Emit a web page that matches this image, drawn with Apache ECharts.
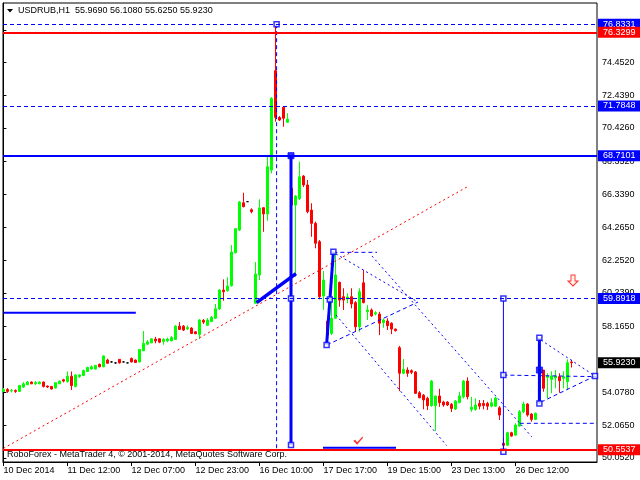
<!DOCTYPE html>
<html><head><meta charset="utf-8">
<script src="https://cdn.jsdelivr.net/npm/echarts@6/dist/echarts.min.js"></script>
<style>html,body{margin:0;padding:0;background:#fff}#c{width:640px;height:480px}</style>
</head><body><div id="c"></div>
<script>
// ---- candle data (USDRUB H1), bar index = position in arrays ----
const opens = [54.15,54.27,54.18,54.21,54.15,54.42,54.56,54.73,54.62,54.62,54.73,54.48,54.46,54.36,54.62,54.87,54.76,55.09,54.46,55.07,
55.13,55.38,55.53,55.53,55.82,55.67,56.09,55.97,55.91,56.13,55.97,55.91,56.19,56.09,55.97,56.66,57.07,57.15,57.38,57.40,
57.24,57.27,57.27,57.36,58.18,58.18,58.01,58.06,57.83,57.67,58.53,58.23,58.46,58.67,59.25,60.41,60.37,60.68,62.72,64.12,
65.80,65.87,65.37,59.59,61.34,65.50,65.11,67.82,73.96,71.07,71.70,70.77,66.69,65.66,66.06,67.45,66.90,65.35,64.53,63.40,
60.04,58.50,57.73,58.67,60.89,60.00,59.86,60.00,59.63,58.14,60.86,59.07,59.18,58.93,58.93,58.40,58.50,58.36,58.00,56.85,
55.27,55.47,55.43,55.35,54.07,53.92,53.72,53.27,53.27,53.87,53.49,53.49,53.35,53.06,53.47,53.82,54.79,53.04,53.04,53.41,
53.41,53.41,53.24,53.24,53.14,50.95,50.83,51.60,51.45,52.01,52.90,53.37,52.75,52.42,53.42,55.47,55.02,54.89,54.98,55.06,
54.96,54.75,55.969];
const highs = [54.36,54.36,54.30,54.27,54.55,54.73,54.79,54.76,54.79,54.76,54.76,54.51,54.48,54.73,54.82,54.93,55.38,55.38,55.20,55.20,
55.50,55.67,55.76,55.78,55.87,56.37,56.17,56.00,55.94,56.15,55.99,55.93,56.24,56.12,56.77,57.88,57.32,57.44,57.52,57.44,
57.44,57.47,57.57,58.25,58.43,58.25,58.23,58.12,57.88,58.62,58.62,58.68,58.81,59.55,60.47,61.07,61.20,63.19,64.24,65.91,
66.42,65.89,65.46,62.14,66.01,65.50,68.64,72.33,76.83,71.16,71.78,71.33,66.90,66.28,68.34,67.51,67.21,65.77,64.63,63.50,
61.59,58.76,60.00,62.76,60.93,60.52,60.21,60.52,59.73,60.52,61.65,59.48,59.28,59.11,59.07,58.67,58.67,58.42,58.03,56.96,
56.15,55.64,55.51,55.41,54.17,53.99,53.82,54.85,53.87,54.31,53.57,53.55,53.43,53.62,54.13,54.85,55.02,53.82,53.72,53.62,
53.62,53.51,53.72,53.82,53.24,51.27,51.66,51.66,52.18,53.00,53.52,53.42,52.80,52.84,57.46,55.47,55.27,55.39,55.47,55.27,
55.39,56.13,56.108];
const lows = [54.12,54.06,54.09,54.06,54.12,54.36,54.55,54.60,54.55,54.60,54.39,54.36,54.27,54.33,54.60,54.71,54.69,54.24,54.40,54.98,
55.11,55.36,55.50,55.50,55.64,55.64,55.87,55.94,55.87,55.87,55.95,55.89,55.94,55.91,55.94,56.64,57.01,57.13,57.12,57.13,
57.03,57.19,57.25,57.32,57.94,57.88,57.94,57.69,57.69,57.38,58.31,58.19,58.44,58.62,59.18,59.75,60.31,60.62,62.67,64.05,
65.52,65.85,65.15,59.59,61.03,64.01,64.69,67.62,70.81,70.85,70.50,70.76,65.17,61.23,65.97,66.77,65.15,63.70,62.99,59.84,
59.18,57.01,57.63,58.62,59.38,59.18,59.59,59.28,57.83,57.83,59.59,58.56,58.76,58.84,57.63,58.08,57.94,57.69,57.85,54.17,
55.22,55.05,55.22,53.99,53.72,53.04,53.00,53.20,51.72,53.20,53.20,53.24,52.88,53.00,53.41,53.72,53.66,52.89,52.96,53.04,
53.04,53.00,53.17,53.20,52.38,50.55,50.78,51.35,51.41,51.97,52.80,52.59,52.28,52.38,53.37,54.13,53.72,54.04,54.34,54.07,
54.34,54.24,55.625];
const closes = [54.27,54.15,54.21,54.15,54.52,54.62,54.73,54.62,54.70,54.73,54.46,54.42,54.30,54.69,54.79,54.79,55.09,54.51,55.17,55.17,
55.44,55.63,55.67,55.76,55.67,56.34,55.89,55.97,55.91,55.91,55.97,55.91,55.97,55.93,56.74,57.12,57.21,57.40,57.27,57.19,
57.36,57.38,57.48,58.18,57.98,57.94,58.10,57.73,57.71,58.56,58.43,58.56,58.73,59.25,60.41,60.31,60.66,62.76,64.20,65.85,
65.56,65.87,65.25,61.40,65.48,65.11,68.03,72.25,71.08,70.91,71.02,70.97,65.66,66.22,67.41,66.90,65.25,64.53,63.30,60.00,
61.03,57.63,58.67,61.34,59.79,59.79,59.98,59.55,58.14,60.31,59.63,59.18,58.81,59.01,58.36,58.56,58.21,58.00,57.90,55.27,
55.51,55.27,55.33,54.03,53.76,53.62,53.27,54.79,53.87,53.45,53.31,53.31,53.10,53.56,53.87,54.79,53.82,53.17,53.31,53.24,
53.28,53.24,53.45,53.74,52.69,50.82,51.60,51.39,52.07,52.90,53.37,52.69,52.42,52.80,55.51,54.34,55.10,55.10,55.10,54.81,
55.06,55.92,55.923];

// ---- axis ticks (labels hidden under price boxes are left out of the label list) ----
const priceTicks = [50.052,52.065,54.078,56.152,58.165,60.239,62.252,64.265,66.339,68.352,70.426,72.439,74.452,76.465];
const priceTickLabels = [50.052,52.065,54.078,58.165,60.239,62.252,64.265,66.339,68.352,70.426,72.439,74.452];
const dateTickBars = [0,16,32,48,64,80,96,112,128];
const dateLabels = ['10 Dec 2014','11 Dec 12:00','12 Dec 07:00','12 Dec 23:00','16 Dec 10:00','17 Dec 17:00','19 Dec 15:00','23 Dec 13:00','26 Dec 12:00'];

// ---- horizontal price levels ----
const levelHigh = 76.8331, levelResRed = 76.3299, levelDash1 = 71.7848, levelBlue = 68.7101, levelDash2 = 59.8918, levelSupRed = 50.5537;
const lastPrice = 55.923;
const header = ['USDRUB,H1', '55.9690', '56.1080', '55.6250', '55.9230'];

// ---- drawn objects: [bar, price] ----
const redTrend = [[0, 50.63], [115.98, 66.79]];
const blueTrend = [[63.3, 59.63], [73.15, 61.42]];
const spikeDashV = [[68.3, 76.83], [68.3, 50.55]];
const waveV1 = [[71.9, 68.71], [71.9, 50.84]];
const waveV2 = [[82.5, 62.78], [80.8, 57.02]];
const topDashH = [[82.5, 62.74], [93.4, 62.74]];
const triUpper = [[83.15, 62.64], [103.65, 59.67]];
const triLower = [[80.9, 57.02], [103.65, 59.67]];
const chanUpper = [[92.15, 62.51], [132.08, 51.35]];
const chanLower = [[83.15, 58.87], [110.8, 50.81]];
const bottomBlueH = [[79.9, 50.67], [98.15, 50.67]];
const leftBlueH = [[0, 59.01], [33.1, 59.01]];
const waveV3 = [[125, 59.89], [125, 50.43]];
const midDashH = [[125, 55.16], [148.3, 55.06]];
const waveV4 = [[134, 57.47], [134, 53.41]];
const tri2Upper = [[134.4, 57.32], [147.9, 55.10]];
const tri2Lower = [[134.4, 53.49], [147.9, 55.10]];
const lowDashH = [[129.1, 52.18], [148.4, 52.18]];
const hollowSquares = [[68.3, 76.83], [71.9, 59.89], [71.9, 50.84], [82.5, 62.78], [81.6, 59.83], [80.8, 57.02],
  [125, 59.89], [125, 55.16], [125, 50.43], [134, 57.47], [134, 53.41], [147.9, 55.10]];
const filledSquares = [[71.9, 68.71], [134, 55.47]];
const arrowMark = [[142.4, 61.0]];
const checkMark = [[88.7, 51.11]];

const FONT = 'Liberation Sans';
const BLUE = '#0000ff', RED = '#ff0000', GREEN = '#00ff00';

const candleData = opens.map((o, i) => {
  const v = [i, o, closes[i], lows[i], highs[i]];
  if (o === closes[i]) return {value: v, itemStyle: {color: '#000', color0: '#000', borderColor: '#000', borderColor0: '#000'}};
  return v;
});

function seg(data, color, width, type, z) {
  return {type: 'line', data: data, symbol: 'none', showSymbol: false, silent: true, animation: false,
    lineStyle: {color: color, width: width, type: type}, z: z || 4};
}
function level(v, color, width, type) {
  return {name: v.toFixed(4), yAxis: v, lineStyle: {color: color, width: width, type: type},
    label: {backgroundColor: color}};
}

const chart = echarts.init(document.getElementById('c'));
chart.setOption({
  animation: false,
  backgroundColor: '#fff',
  grid: {left: 3, top: 3, width: 594, height: 459, show: true, borderColor: '#000', borderWidth: 1, backgroundColor: '#fff'},
  xAxis: {
    type: 'value', min: -0.1, max: 148.4, position: 'bottom',
    axisLine: {show: true, onZero: false, lineStyle: {color: '#000', width: 1}},
    axisTick: {show: true, length: 4, customValues: dateTickBars, lineStyle: {color: '#000'}},
    axisLabel: {customValues: dateTickBars, align: 'left', margin: 4, color: '#000', fontSize: 9, fontFamily: FONT,
      formatter: v => dateLabels[dateTickBars.indexOf(Math.round(v))] || ''},
    splitLine: {show: false}
  },
  yAxis: {
    type: 'value', min: 49.79, max: 78.14, position: 'right', scale: true,
    axisLine: {show: true, lineStyle: {color: '#000', width: 1}},
    axisTick: {show: true, length: 3, customValues: priceTicks, lineStyle: {color: '#000'}},
    axisLabel: {customValues: priceTickLabels, margin: 5, color: '#000', fontSize: 9, fontFamily: FONT,
      formatter: v => v.toFixed(4)},
    splitLine: {show: false}
  },
  graphic: [
    {type: 'polygon', shape: {points: [[7, 9], [13, 9], [10, 12.5]]}, style: {fill: '#000'}, z: 100},
    {type: 'text', x: 18, y: 6, style: {text: header[0] + '  ' + header.slice(1).join(' '), font: '9px ' + FONT, fill: '#000'}, z: 100},
    {type: 'text', x: 7, y: 450, style: {text: 'RoboForex - MetaTrader 4, \u00a9 2001-2014, MetaQuotes Software Corp.', font: '9px ' + FONT, fill: '#000'}, z: 100}
  ],
  series: [
    {
      type: 'candlestick', name: 'USDRUB', data: candleData, encode: {x: 0, y: [1, 2, 3, 4]},
      barWidth: 3, z: 2,
      itemStyle: {color: GREEN, color0: RED, borderColor: GREEN, borderColor0: RED, borderWidth: 1},
      markLine: {
        silent: true, symbol: ['none', 'none'], animation: false, z: 6,
        label: {show: true, position: 'end', distance: 1, color: '#fff', fontSize: 9, fontFamily: FONT, lineHeight: 10,
          padding: [1, 6, 0, 5], formatter: p => p.name},
        data: [
          level(levelHigh, BLUE, 1, [4, 3]),
          level(levelResRed, RED, 2, 'solid'),
          level(levelDash1, BLUE, 1, [4, 3]),
          level(levelBlue, BLUE, 2, 'solid'),
          level(levelDash2, BLUE, 1, [4, 3]),
          level(levelSupRed, RED, 2, 'solid'),
          {name: lastPrice.toFixed(4), yAxis: lastPrice, lineStyle: {color: 'rgba(0,0,0,0)', width: 0},
            label: {backgroundColor: '#000', color: '#fff'}}
        ]
      }
    },
    seg(redTrend, RED, 1, [2, 3], 3),
    seg(blueTrend, BLUE, 3.5, 'solid'),
    seg(spikeDashV, BLUE, 1, [4, 3]),
    seg(waveV1, BLUE, 3, 'solid'),
    seg(waveV2, BLUE, 3, 'solid'),
    seg(topDashH, BLUE, 1, [4, 3]),
    seg(triUpper, BLUE, 1, [2, 3]),
    seg(triLower, BLUE, 1, [4, 3]),
    seg(chanUpper, BLUE, 1, [2, 3]),
    seg(chanLower, BLUE, 1, [2, 3]),
    seg(bottomBlueH, BLUE, 2, 'solid'),
    seg(leftBlueH, BLUE, 2, 'solid'),
    seg(waveV3, BLUE, 1, 'solid'),
    seg(midDashH, BLUE, 1, [4, 3]),
    seg(waveV4, BLUE, 3, 'solid'),
    seg(tri2Upper, BLUE, 1, [2, 3]),
    seg(tri2Lower, BLUE, 1, [4, 3]),
    seg(lowDashH, BLUE, 1, [4, 3]),
    {type: 'scatter', data: hollowSquares, symbol: 'rect', symbolSize: 5, silent: true, z: 5,
      itemStyle: {color: '#fff', borderColor: BLUE, borderWidth: 1.5}},
    {type: 'scatter', data: filledSquares, symbol: 'rect', symbolSize: 6, silent: true, z: 5,
      itemStyle: {color: BLUE, borderColor: BLUE, borderWidth: 1}},
    {type: 'scatter', data: arrowMark, symbol: 'path://M3,0 L7,0 L7,6 L10,6 L5,11 L0,6 L3,6 Z', symbolSize: [10, 11],
      silent: true, z: 5, itemStyle: {color: '#fff4e6', borderColor: RED, borderWidth: 1}},
    {type: 'scatter', data: checkMark, symbol: 'path://M0,5 L2,4 L4,7 L9,0 L10,1 L4,10 Z', symbolSize: [10, 8],
      silent: true, z: 5, itemStyle: {color: RED}}
  ]
});
</script></body></html>
